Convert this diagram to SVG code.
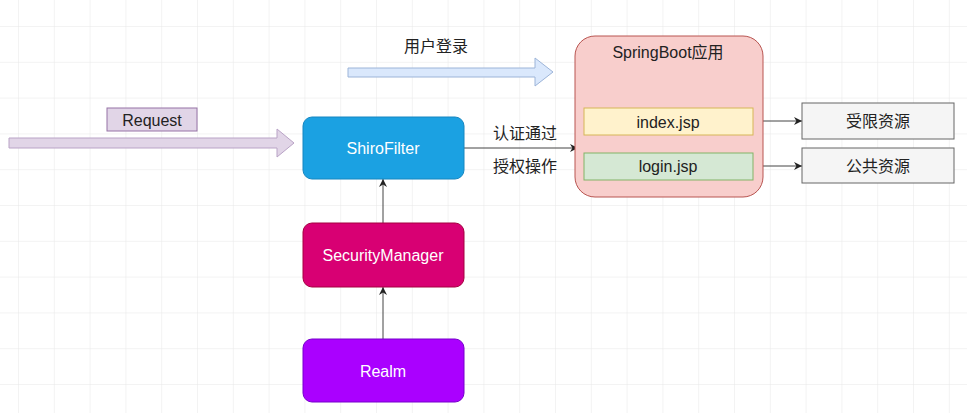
<svg xmlns="http://www.w3.org/2000/svg" width="967" height="413" viewBox="0 0 967 413">
<defs>
<pattern id="grid" x="18" y="26" width="35.8" height="35.8" patternUnits="userSpaceOnUse">
<path d="M0 0H35.8M0 0V35.8" fill="none" stroke="#e8e8e8" stroke-width="1"/>
</pattern>
<marker id="ah" viewBox="0 0 10 10" refX="10" refY="5" markerWidth="8" markerHeight="8" orient="auto" markerUnits="userSpaceOnUse">
<path d="M0 0L10 5L0 10L3 5Z" fill="#222"/>
</marker>
<style>
text{font-family:"Liberation Sans","Noto Sans CJK SC",sans-serif;text-anchor:middle;dominant-baseline:central}
.w{fill:#fff;font-size:16px}
.d{fill:#222;font-size:16px}
.c{fill:none;stroke:#444;stroke-width:1}
</style>
</defs>
<rect width="967" height="413" fill="#fff"/>
<rect width="967" height="413" fill="url(#grid)"/>

<g id="login-arrow">
<path d="M348 68H535V58L553 72L535 86V77H348Z" fill="#dae8fc" stroke="#9cb4d8" stroke-width="1"/>
<text class="d" x="436" y="46">用户登录</text>
</g>
<g id="request-arrow">
<path d="M9 138H277V129L294 143L277 157V148H9Z" fill="#e1d5e7" stroke="#b9a3c6" stroke-width="1"/>
</g>
<g id="request">
<rect x="107" y="108" width="90" height="23" fill="#e1d5e7" stroke="#9673a6"/>
<text class="d" x="152" y="120">Request</text>
</g>

<g id="connectors">
<line class="c" x1="383" y1="339" x2="383" y2="287" marker-end="url(#ah)"/>
<line class="c" x1="383" y1="223" x2="383" y2="179" marker-end="url(#ah)"/>
<line class="c" x1="464" y1="148" x2="578" y2="148" marker-end="url(#ah)"/>
<line class="c" x1="753" y1="121" x2="802" y2="121" marker-end="url(#ah)"/>
<line class="c" x1="753" y1="166" x2="802" y2="166" marker-end="url(#ah)"/>
</g>

<g id="shirofilter">
<rect x="303" y="117" width="161" height="62" rx="9" fill="#1ba1e2" stroke="#1686c0"/>
<text class="w" x="383" y="148">ShiroFilter</text>
</g>
<g id="securitymanager">
<rect x="303" y="223" width="161" height="64" rx="9" fill="#d80073" stroke="#a50040"/>
<text class="w" x="383" y="255">SecurityManager</text>
</g>
<g id="realm">
<rect x="303" y="339" width="161" height="63" rx="9" fill="#aa00ff" stroke="#7700cc"/>
<text class="w" x="383" y="371">Realm</text>
</g>

<g id="edge-labels">
<text class="d" x="525" y="133">认证通过</text>
<text class="d" x="525" y="166">授权操作</text>
</g>

<g id="springboot">
<rect x="575" y="36" width="188" height="161" rx="20" fill="#f8cecc" stroke="#b85450"/>
<text class="d" x="668" y="52">SpringBoot应用</text>
</g>
<g id="index-jsp">
<rect x="584" y="108" width="169" height="27" fill="#fff2cc" stroke="#d6b656"/>
<text class="d" x="668" y="122">index.jsp</text>
</g>
<g id="login-jsp">
<rect x="584" y="153" width="169" height="27" fill="#d5e8d4" stroke="#82b366"/>
<text class="d" x="668" y="166">login.jsp</text>
</g>
<g id="restricted">
<rect x="802" y="103" width="152" height="36" fill="#f5f5f5" stroke="#666"/>
<text class="d" x="878" y="121">受限资源</text>
</g>
<g id="public">
<rect x="802" y="148" width="152" height="35" fill="#f5f5f5" stroke="#666"/>
<text class="d" x="878" y="166">公共资源</text>
</g>
</svg>
